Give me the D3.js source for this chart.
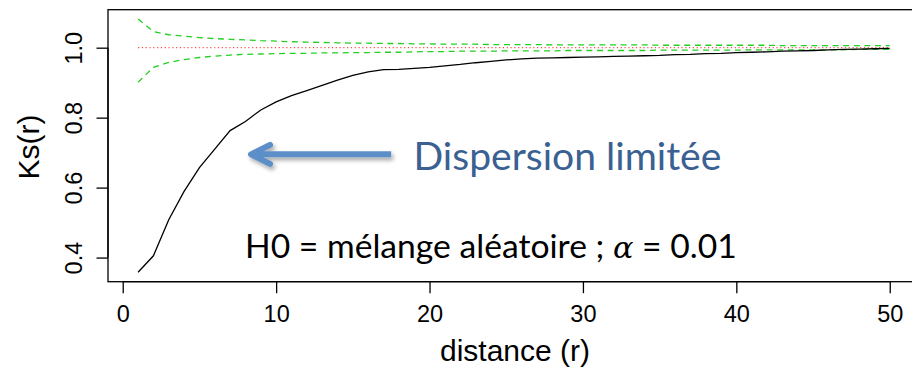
<!DOCTYPE html>
<html><head><meta charset="utf-8">
<script src="https://cdn.jsdelivr.net/npm/d3@7"></script>
<style>html,body{margin:0;padding:0;background:#fff;overflow:hidden}</style>
</head><body>
<svg id="c" width="912" height="372"></svg>
<script>
const distance = [1,2,3,4,5,6,7,8,9,10,11,12,13,14,15,16,17,18,19,20,21,22,23,24,25,26,27,28,29,30,31,32,33,34,35,36,37,38,39,40,41,42,43,44,45,46,47,48,49,50];
const ks = [0.358,0.405,0.508,0.589,0.657,0.710,0.763,0.789,0.822,0.845,0.863,0.877,0.892,0.907,0.921,0.931,0.937,0.938,0.941,0.944,0.948,0.952,0.957,0.961,0.965,0.968,0.970,0.971,0.972,0.973,0.974,0.975,0.976,0.977,0.978,0.980,0.981,0.983,0.984,0.986,0.987,0.988,0.990,0.991,0.992,0.994,0.995,0.996,0.997,0.998];
const envUpper = [1.082,1.046,1.037,1.033,1.029,1.026,1.024,1.022,1.020,1.019,1.017,1.016,1.015,1.014,1.013,1.013,1.012,1.012,1.011,1.011,1.010,1.010,1.010,1.009,1.009,1.009,1.009,1.008,1.008,1.008,1.008,1.008,1.008,1.008,1.007,1.007,1.007,1.007,1.007,1.007,1.007,1.007,1.006,1.006,1.006,1.006,1.006,1.006,1.006,1.006];
const envLower = [0.901,0.944,0.958,0.966,0.972,0.976,0.979,0.981,0.982,0.983,0.984,0.984,0.985,0.985,0.986,0.986,0.987,0.987,0.988,0.989,0.989,0.990,0.990,0.990,0.991,0.991,0.991,0.991,0.992,0.992,0.992,0.992,0.992,0.992,0.993,0.993,0.993,0.993,0.993,0.993,0.994,0.994,0.994,0.994,0.994,0.994,0.994,0.995,0.995,0.995];
const theoretical = distance.map(() => 1.0);
const xTicks = [0,10,20,30,40,50];
const yTicks = [0.4,0.6,0.8,1.0];
const xLabel = "distance (r)";
const yLabel = "Ks(r)";
const annotation = "Dispersion limitée";
const arrowTip = {r: 8.3, v: 0.695};
const arrowTail = {r: 17.5, v: 0.695};

const svg = d3.select("#c");
const x = d3.scaleLinear().domain([-0.96, 51.96]).range([108, 919.8]);
const y = d3.scaleLinear().domain([0.331, 1.1086]).range([281.7, 9.7]);

const defs = svg.append("defs");
const f = defs.append("filter").attr("id","sh").attr("x","-20%").attr("y","-50%").attr("width","140%").attr("height","200%");
f.append("feDropShadow").attr("dx",2).attr("dy",3).attr("stdDeviation",2).attr("flood-color","#000").attr("flood-opacity",0.35);

const line = (arr) => d3.line().x((d,i)=>x(distance[i])).y(d=>y(d))(arr);

svg.append("path").attr("d", line(envUpper)).attr("fill","none").attr("stroke","#22d022").attr("stroke-width",1.3).attr("stroke-dasharray","6,4.6");
svg.append("path").attr("d", line(envLower)).attr("fill","none").attr("stroke","#22d022").attr("stroke-width",1.3).attr("stroke-dasharray","6,4.6");
svg.append("path").attr("d", line(theoretical)).attr("fill","none").attr("stroke","#ff2020").attr("stroke-width",1).attr("stroke-dasharray","1.2,2.6");
svg.append("path").attr("d", line(ks)).attr("fill","none").attr("stroke","#000").attr("stroke-width",1.3);

svg.append("rect").attr("x",x(-0.96)).attr("y",y(1.1086)).attr("width",x(51.96)-x(-0.96)).attr("height",y(0.331)-y(1.1086)).attr("fill","none").attr("stroke","#000").attr("stroke-width",1.3);

const gx = svg.append("g").attr("transform",`translate(0,${y(0.331)})`).call(d3.axisBottom(x).tickValues(xTicks).tickSize(11.5).tickPadding(0).tickFormat(d3.format("d")));
gx.select(".domain").remove();
gx.selectAll("line").attr("stroke","#000").attr("stroke-width",1.3);
gx.selectAll("text").attr("dy",null).attr("y",40).attr("font-family","Liberation Sans, Arial, sans-serif").attr("font-size",23.5).attr("fill","#000");
svg.append("line").attr("x1",x(0)).attr("x2",x(50)).attr("y1",y(0.331)).attr("y2",y(0.331)).attr("stroke","#000").attr("stroke-width",1.3);

const gy = svg.append("g").attr("transform",`translate(${x(-0.96)},0)`).call(d3.axisLeft(y).tickValues(yTicks).tickSize(11.5).tickPadding(0).tickFormat(d3.format(".1f")));
gy.select(".domain").remove();
gy.selectAll("line").attr("stroke","#000").attr("stroke-width",1.3);
gy.selectAll("text").attr("x",null).attr("dy",null).attr("text-anchor","middle")
  .attr("transform","translate(-26.5,0) rotate(-90)")
  .attr("font-family","Liberation Sans, Arial, sans-serif").attr("font-size",23.5).attr("fill","#000");
svg.append("line").attr("x1",x(-0.96)).attr("x2",x(-0.96)).attr("y1",y(0.4)).attr("y2",y(1.0)).attr("stroke","#000").attr("stroke-width",1.3);

svg.append("text").attr("x",515).attr("y",361).attr("text-anchor","middle").attr("font-family","Liberation Sans, Arial, sans-serif").attr("font-size",30).text(xLabel);
svg.append("text").attr("transform","translate(38.5,147) rotate(-90)").attr("text-anchor","middle").attr("font-family","Liberation Sans, Arial, sans-serif").attr("font-size",30).text(yLabel);

const ag = svg.append("g").attr("filter","url(#sh)").attr("stroke","#5b8fc8").attr("stroke-width",6).attr("stroke-linecap","round").attr("stroke-linejoin","round").attr("fill","none");
const tx = x(arrowTip.r), ty = y(arrowTip.v), sx = x(arrowTail.r);
ag.append("path").attr("d", `M${sx},${ty}L${tx+3},${ty}`).attr("stroke-linecap","butt");
ag.append("path").attr("d", `M${tx+20},${ty-9.5}L${tx+1},${ty}L${tx+20},${ty+9.5}`);

function fitWidth(t, target) {
  const w = t.node().getComputedTextLength();
  const fs = parseFloat(t.attr("font-size"));
  t.attr("font-size", fs * target / w);
}

const a = svg.append("text").attr("x",413.5).attr("y",169.5).attr("font-family","Lato, sans-serif").attr("font-size",36).attr("fill","#3a6192").text(annotation);
fitWidth(a, 308);

const h = svg.append("text").attr("x",245).attr("y",257.5).attr("font-family","Lato, sans-serif").attr("font-size",30).attr("fill","#000");
h.append("tspan").text("H0 = mélange aléatoire ; ");
h.append("tspan").attr("font-family","DejaVu Serif, serif").attr("font-style","italic").attr("font-size","0.9em").text("α");
h.append("tspan").text(" = 0.01");
fitWidth(h, 492);
</script>
</body></html>
